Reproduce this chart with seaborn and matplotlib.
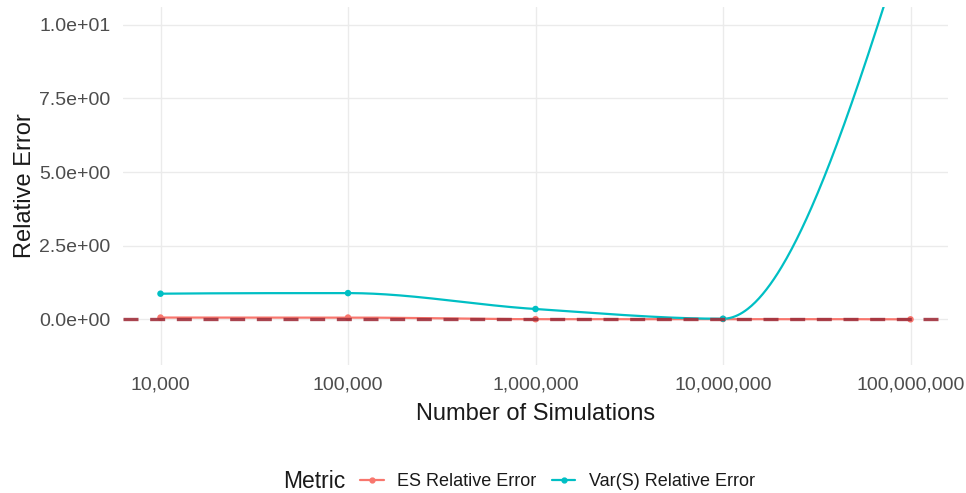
import numpy as np
import pandas as pd
import matplotlib
matplotlib.use("Agg")
import matplotlib.pyplot as plt
import matplotlib.ticker as mticker
from matplotlib.lines import Line2D
import seaborn as sns

# ---- data ----
n_sims = [1e4, 1e5, 1e6, 1e7, 1e8]
es_rel_error = [0.06, 0.06, 0.005, 0.01, 0.0]
var_rel_error = [0.87, 0.89, 0.35, 0.02, 13.5]
metrics = ["ES Relative Error", "Var(S) Relative Error"]
palette = ["#F8766D", "#00BFC4"]
threshold = 0.0
y_ticks = [0.0, 2.5, 5.0, 7.5, 10.0]
y_tick_labels = ["0.0e+00", "2.5e+00", "5.0e+00", "7.5e+00", "1.0e+01"]


def pchip(x, y, xn):
    x = np.asarray(x, float); y = np.asarray(y, float)
    h = np.diff(x); delta = np.diff(y) / h
    n = len(x); d = np.zeros(n)
    for k in range(1, n - 1):
        if delta[k - 1] * delta[k] > 0:
            w1 = 2 * h[k] + h[k - 1]; w2 = h[k] + 2 * h[k - 1]
            d[k] = (w1 + w2) / (w1 / delta[k - 1] + w2 / delta[k])
    def endslope(h0, h1, d0, d1):
        s = ((2 * h0 + h1) * d0 - h0 * d1) / (h0 + h1)
        if np.sign(s) != np.sign(d0):
            s = 0.0
        elif np.sign(d0) != np.sign(d1) and abs(s) > 3 * abs(d0):
            s = 3 * d0
        return s
    d[0] = endslope(h[0], h[1], delta[0], delta[1])
    d[-1] = endslope(h[-1], h[-2], delta[-1], delta[-2])
    idx = np.clip(np.searchsorted(x, xn) - 1, 0, n - 2)
    t = (xn - x[idx]) / h[idx]
    h00 = 2 * t**3 - 3 * t**2 + 1; h10 = t**3 - 2 * t**2 + t
    h01 = -2 * t**3 + 3 * t**2; h11 = t**3 - t**2
    return h00 * y[idx] + h10 * h[idx] * d[idx] + h01 * y[idx + 1] + h11 * h[idx] * d[idx + 1]


lx = np.log10(n_sims)
grid = np.linspace(lx[0], lx[-1], 600)
smooth = pd.concat([
    pd.DataFrame({"N": 10**grid, "err": pchip(lx, es_rel_error, grid), "Metric": metrics[0]}),
    pd.DataFrame({"N": 10**grid, "err": pchip(lx, var_rel_error, grid), "Metric": metrics[1]}),
])
points = pd.concat([
    pd.DataFrame({"N": n_sims, "err": es_rel_error, "Metric": metrics[0]}),
    pd.DataFrame({"N": n_sims, "err": var_rel_error, "Metric": metrics[1]}),
])

sns.set_theme(style="whitegrid")
plt.rcParams["font.family"] = ["Liberation Sans", "DejaVu Sans"]

fig = plt.figure(figsize=(9.66, 4.93), dpi=100)
ax = fig.add_axes([123 / 966, 1 - 365 / 493, (948 - 123) / 966, (365 - 7) / 493])

sns.lineplot(data=smooth, x="N", y="err", hue="Metric", palette=palette,
             hue_order=metrics, linewidth=1.6, ax=ax, legend=False, zorder=3)
sns.scatterplot(data=points, x="N", y="err", hue="Metric", palette=palette,
                hue_order=metrics, s=22, edgecolor="none", ax=ax, legend=False, zorder=4)
ax.axhline(threshold, color="#A0303C", linewidth=2.4, dashes=(4.5, 3.5), zorder=5, alpha=0.9)

ax.set_xscale("log")
ax.set_xlim(10**3.8, 10**8.2)
ax.set_ylim(-1.55, 10.6)
ax.xaxis.set_major_locator(mticker.FixedLocator(n_sims))
ax.xaxis.set_minor_locator(mticker.NullLocator())
ax.xaxis.set_major_formatter(mticker.FuncFormatter(lambda v, p: f"{int(round(v)):,}"))
ax.set_yticks(y_ticks)
ax.set_yticklabels(y_tick_labels)

for s in ax.spines.values():
    s.set_visible(False)
ax.set_facecolor("white")
ax.grid(True, color="#EBEBEB", linewidth=1.0)
ax.tick_params(axis="both", length=0, labelsize=14, labelcolor="#4D4D4D")
ax.tick_params(axis="x", pad=8)
ax.tick_params(axis="y", pad=9)
ax.set_xlabel("Number of Simulations", fontsize=17, color="#1A1A1A", labelpad=7)
ax.set_ylabel("Relative Error", fontsize=17, color="#1A1A1A", labelpad=2.5)

handles = [Line2D([0], [0], color=c, marker="o", markersize=3.5, linewidth=1.6) for c in palette]
fig.text(283 / 966, 1 - 482 / 493, "Metric", fontsize=16.5, color="#1A1A1A", va="center", ha="left")
leg = fig.legend(handles, metrics, loc="center left", bbox_to_anchor=(344 / 966, 1 - 482 / 493),
                 ncol=2, frameon=False, fontsize=13, handlelength=1.3, handletextpad=0.75,
                 columnspacing=0.85)
for t in leg.get_texts():
    t.set_color("#1A1A1A")

fig.savefig("out.png", dpi=100)
